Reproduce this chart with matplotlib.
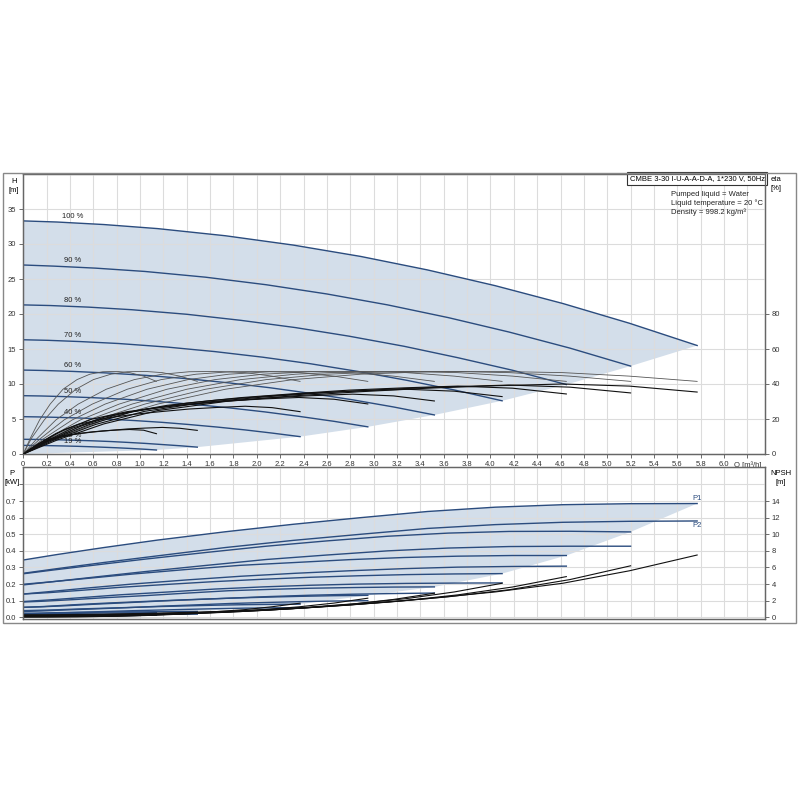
import matplotlib.pyplot as plt
from matplotlib.patches import Rectangle

# speed labels (top chart)
speeds = ['100 %', '90 %', '80 %', '70 %', '60 %', '50 %', '40 %', '25 %', '19 %']

# flow points for every speed curve [m3/h]
q = [
    [0, 0.29, 0.69, 1.15, 1.73, 2.31, 2.89, 3.46, 4.04, 4.62, 5.19, 5.77],
    [0, 0.26, 0.62, 1.04, 1.56, 2.08, 2.60, 3.12, 3.64, 4.16, 4.68, 5.20],
    [0, 0.23, 0.56, 0.93, 1.40, 1.86, 2.33, 2.79, 3.26, 3.72, 4.19, 4.65],
    [0, 0.21, 0.49, 0.82, 1.23, 1.64, 2.05, 2.46, 2.87, 3.28, 3.69, 4.10],
    [0, 0.18, 0.42, 0.70, 1.06, 1.41, 1.76, 2.11, 2.46, 2.82, 3.17, 3.52],
    [0, 0.15, 0.35, 0.59, 0.89, 1.18, 1.48, 1.77, 2.07, 2.36, 2.66, 2.95],
    [0, 0.12, 0.28, 0.47, 0.71, 0.95, 1.19, 1.42, 1.66, 1.90, 2.13, 2.37],
    [0, 0.07, 0.18, 0.30, 0.45, 0.60, 0.75, 0.89, 1.04, 1.19, 1.34, 1.49],
    [0, 0.06, 0.14, 0.23, 0.34, 0.46, 0.57, 0.68, 0.80, 0.91, 1.03, 1.14],
]

# head [m]
head = [
    [33.3, 33.14, 32.78, 32.2, 31.18, 29.85, 28.22, 26.3, 24.05, 21.5, 18.68, 15.5],
    [27.0, 26.84, 26.55, 26.08, 25.26, 24.18, 22.86, 21.3, 19.48, 17.42, 15.13, 12.56],
    [21.3, 21.21, 20.98, 20.61, 19.96, 19.1, 18.06, 16.83, 15.39, 13.76, 11.96, 9.92],
    [16.32, 16.24, 16.06, 15.78, 15.28, 14.63, 13.83, 12.89, 11.78, 10.54, 9.15, 7.6],
    [11.99, 11.93, 11.8, 11.59, 11.22, 10.75, 10.16, 9.47, 8.66, 7.74, 6.72, 5.58],
    [8.33, 8.29, 8.2, 8.05, 7.8, 7.46, 7.06, 6.58, 6.01, 5.38, 4.67, 3.88],
    [5.33, 5.3, 5.24, 5.15, 4.99, 4.78, 4.52, 4.21, 3.85, 3.44, 2.99, 2.48],
    [2.1, 2.09, 2.07, 2.03, 1.96, 1.88, 1.78, 1.66, 1.52, 1.35, 1.18, 0.98],
    [1.23, 1.23, 1.21, 1.19, 1.15, 1.1, 1.04, 0.97, 0.89, 0.8, 0.69, 0.57],
]

# pump efficiency [%] (same shape at each speed)
eta_pump = [0, 9, 19.5, 28.5, 37, 42.5, 45.6, 47, 47.2, 46.5, 44.5, 41.5]

# total efficiency [%]
eta_total = [
    [0, 8, 17.2, 24.8, 30, 33.2, 35.6, 37.6, 39, 40, 38.8, 35.4],
    [0, 7.9, 16.9, 24.4, 29.6, 32.7, 35.1, 37, 38.4, 39.4, 38.2, 34.9],
    [0, 7.8, 16.7, 24.1, 29.1, 32.2, 34.5, 36.5, 37.8, 38.8, 37.6, 34.3],
    [0, 7.4, 15.9, 22.9, 27.8, 30.7, 32.9, 34.8, 36.1, 37, 35.9, 32.8],
    [0, 6.8, 14.7, 21.2, 25.7, 28.4, 30.4, 32.1, 33.3, 34.2, 33.2, 30.3],
    [0, 6.5, 13.9, 20, 24.2, 26.8, 28.7, 30.4, 31.5, 32.3, 31.3, 28.6],
    [0, 5.5, 11.7, 16.9, 20.5, 22.7, 24.3, 25.7, 26.6, 27.3, 26.5, 24.2],
    [0, 3, 6.5, 9.4, 11.4, 12.6, 13.5, 14.3, 14.8, 15.2, 14.7, 13.5],
    [0, 2.8, 6, 8.7, 10.5, 11.6, 12.5, 13.2, 13.7, 14, 13.6, 11.6],
]

# input power P1 [kW]
p1 = [
    [0.345, 0.378, 0.42, 0.465, 0.515, 0.56, 0.60, 0.637, 0.663, 0.678, 0.684, 0.685],
    [0.262, 0.285, 0.315, 0.35, 0.39, 0.428, 0.46, 0.488, 0.507, 0.517, 0.518, 0.514],
    [0.199, 0.213, 0.235, 0.26, 0.288, 0.313, 0.33, 0.347, 0.36, 0.368, 0.372, 0.372],
    [0.14, 0.148, 0.162, 0.18, 0.198, 0.215, 0.229, 0.241, 0.25, 0.257, 0.261, 0.263],
    [0.092, 0.097, 0.106, 0.118, 0.131, 0.146, 0.16, 0.168, 0.175, 0.179, 0.182, 0.183],
    [0.06, 0.063, 0.069, 0.078, 0.088, 0.098, 0.107, 0.115, 0.121, 0.126, 0.13, 0.132],
    [0.04, 0.042, 0.045, 0.05, 0.055, 0.06, 0.065, 0.069, 0.073, 0.076, 0.078, 0.079],
    [0.025, 0.025, 0.026, 0.028, 0.029, 0.03, 0.032, 0.033, 0.033, 0.034, 0.035, 0.035],
    [0.02, 0.02, 0.021, 0.022, 0.023, 0.024, 0.025, 0.026, 0.026, 0.027, 0.027, 0.028],
]

# shaft power P2 [kW]
p2 = [
    [0.265, 0.293, 0.33, 0.37, 0.42, 0.463, 0.50, 0.535, 0.558, 0.572, 0.578, 0.58],
    [0.195, 0.215, 0.243, 0.275, 0.312, 0.348, 0.375, 0.40, 0.417, 0.426, 0.428, 0.428],
    [0.14, 0.155, 0.177, 0.20, 0.225, 0.247, 0.265, 0.28, 0.293, 0.302, 0.306, 0.308],
    [0.095, 0.104, 0.118, 0.135, 0.152, 0.17, 0.183, 0.193, 0.2, 0.204, 0.206, 0.207],
    [0.06, 0.065, 0.075, 0.085, 0.096, 0.106, 0.115, 0.125, 0.133, 0.139, 0.143, 0.146],
    [0.035, 0.038, 0.044, 0.05, 0.058, 0.067, 0.075, 0.083, 0.089, 0.094, 0.098, 0.10],
    [0.02, 0.022, 0.026, 0.03, 0.035, 0.04, 0.044, 0.048, 0.052, 0.055, 0.057, 0.058],
    [0.008, 0.008, 0.009, 0.011, 0.012, 0.014, 0.015, 0.016, 0.017, 0.018, 0.018, 0.019],
    [0.005, 0.005, 0.006, 0.007, 0.008, 0.009, 0.009, 0.01, 0.011, 0.011, 0.012, 0.012],
]

# NPSH [m]
npsh = [
    [0.3, 0.32, 0.38, 0.5, 0.72, 1.05, 1.6, 2.25, 3.05, 4.1, 5.6, 7.5],
    [0.25, 0.26, 0.31, 0.41, 0.58, 0.85, 1.3, 1.82, 2.47, 3.32, 4.54, 6.2],
    [0.2, 0.21, 0.25, 0.33, 0.47, 0.69, 1.05, 1.47, 2.0, 2.7, 3.65, 4.9],
    [0.16, 0.17, 0.21, 0.27, 0.39, 0.57, 0.87, 1.23, 1.67, 2.25, 3.05, 4.1],
    [0.12, 0.13, 0.15, 0.19, 0.28, 0.41, 0.62, 0.87, 1.18, 1.59, 2.15, 2.9],
    [0.1, 0.1, 0.12, 0.15, 0.22, 0.32, 0.49, 0.69, 0.94, 1.26, 1.71, 2.3],
    [0.07, 0.07, 0.09, 0.11, 0.16, 0.24, 0.36, 0.51, 0.69, 0.93, 1.27, 1.7],
    [0.05, 0.05, 0.05, 0.06, 0.07, 0.09, 0.12, 0.16, 0.21, 0.28, 0.38, 0.5],
    [0.04, 0.04, 0.04, 0.04, 0.05, 0.06, 0.08, 0.1, 0.13, 0.17, 0.23, 0.3],
]

x_ticks = [i * 0.2 for i in range(32)]
x_labels = ['0'] + ['%.1f' % v for v in x_ticks[1:31]] + ['Q [m³/h]']

blue = '#2b4c7e'
fill_c = '#d3deea'
grid_c = '#dcdcdc'
fs = 5.5

plt.rcParams['font.family'] = ['Liberation Sans', 'DejaVu Sans']
fig = plt.figure(figsize=(8, 8), dpi=100)

ax1 = fig.add_axes([0.0291, 0.4325, 0.927, 0.35])
ax2 = fig.add_axes([0.0291, 0.22625, 0.927, 0.19])

# ---- top: head + efficiency
top_x = q[0] + [row[-1] for row in q[1:]] + [0]
top_y = head[0] + [row[-1] for row in head[1:]] + [0]
ax1.fill(top_x, top_y, color=fill_c, lw=0, zorder=1)
for i in range(len(speeds)):
    ax1.plot(q[i], head[i], color=blue, lw=1.0, zorder=3)
    ax1.text(0.42, head[i][0] + 0.6, speeds[i], fontsize=fs, ha='center',
             va='center', color='#222', zorder=4)

ax1.set_xlim(0, 6.35)
ax1.set_ylim(0, 40)
ax1.set_yticks([0, 5, 10, 15, 20, 25, 30, 35])
ax1.set_xticks(x_ticks)
ax1.set_xticklabels(x_labels)
ax1.set_axisbelow(False)
ax1.grid(True, color=grid_c, lw=0.8, zorder=2)

ax1e = ax1.twinx()
ax1e.set_ylim(0, 160)
ax1e.set_yticks([0, 20, 40, 60, 80])
for i in range(len(speeds)):
    ax1e.plot(q[i], eta_pump, color='#555555', lw=0.6, zorder=3)
    ax1e.plot(q[i], eta_total[i], color='#111111', lw=0.8, zorder=3)

ax1.text(0.9995, 0.997, 'CMBE 3-30 I-U-A-A-D-A, 1*230 V, 50Hz',
         transform=ax1.transAxes, ha='right', va='top', fontsize=fs, zorder=5,
         bbox=dict(boxstyle='square,pad=0.35', fc='white', ec='#333333', lw=0.8))
info = ['Pumped liquid = Water', 'Liquid temperature = 20 °C', 'Density = 998.2 kg/m³']
for k, s in enumerate(info):
    ax1.text(5.55, 37.1 - 1.3 * k, s, fontsize=fs, ha='left', va='center', color='#222')

# ---- bottom: power + NPSH
bot_x = q[0] + [row[-1] for row in q[1:]] + [0]
bot_y = p1[0] + [row[-1] for row in p1[1:]] + [0]
ax2.fill(bot_x, bot_y, color=fill_c, lw=0, zorder=1)
for i in range(len(speeds)):
    ax2.plot(q[i], p1[i], color=blue, lw=1.0, zorder=3)
    ax2.plot(q[i], p2[i], color=blue, lw=1.0, zorder=3)
ax2.text(q[0][-1], 0.713, 'P1', fontsize=fs, ha='center', va='center', color=blue)
ax2.text(q[0][-1], 0.55, 'P2', fontsize=fs, ha='center', va='center', color=blue)

ax2.set_xlim(0, 6.35)
ax2.set_ylim(-0.0103, 0.905)
ax2.set_yticks([0, 0.1, 0.2, 0.3, 0.4, 0.5, 0.6, 0.7, 0.8])
ax2.set_yticklabels(['0.0', '0.1', '0.2', '0.3', '0.4', '0.5', '0.6', '0.7', ''])
ax2.set_xticks(x_ticks)
ax2.tick_params(axis='x', length=0, labelbottom=False)
ax2.set_axisbelow(False)
ax2.grid(True, color=grid_c, lw=0.8, zorder=2)

ax2n = ax2.twinx()
ax2n.set_ylim(-0.206, 18.1)
ax2n.set_yticks([0, 2, 4, 6, 8, 10, 12, 14])
for i in range(len(speeds)):
    ax2n.plot(q[i], npsh[i], color='#111111', lw=0.8)

for a in (ax1, ax1e, ax2, ax2n):
    a.tick_params(labelsize=fs, length=3, width=0.6, color='#555', labelcolor='#333', pad=2)
    for sp in a.spines.values():
        sp.set_color('#666666')
        sp.set_linewidth(0.9)
ax2.tick_params(axis='x', length=0)

fig.text(14 / 800, 1 - 186 / 800, 'H\n[m]', ha='center', va='center', fontsize=fs, linespacing=1.3)
fig.text(12 / 800, 1 - 478 / 800, 'P\n[kW]', ha='center', va='center', fontsize=fs, linespacing=1.3)
fig.text(776 / 800, 1 - 184 / 800, 'eta\n[%]', ha='center', va='center', fontsize=fs, linespacing=1.3)
fig.text(781 / 800, 1 - 478 / 800, 'NPSH\n[m]', ha='center', va='center', fontsize=fs, linespacing=1.3)

fig.add_artist(Rectangle((3 / 800, 1 - 623 / 800), 793 / 800, 450 / 800,
                         transform=fig.transFigure, fill=False, ec='#888888', lw=1.0))

fig.savefig('out.png', dpi=100)
